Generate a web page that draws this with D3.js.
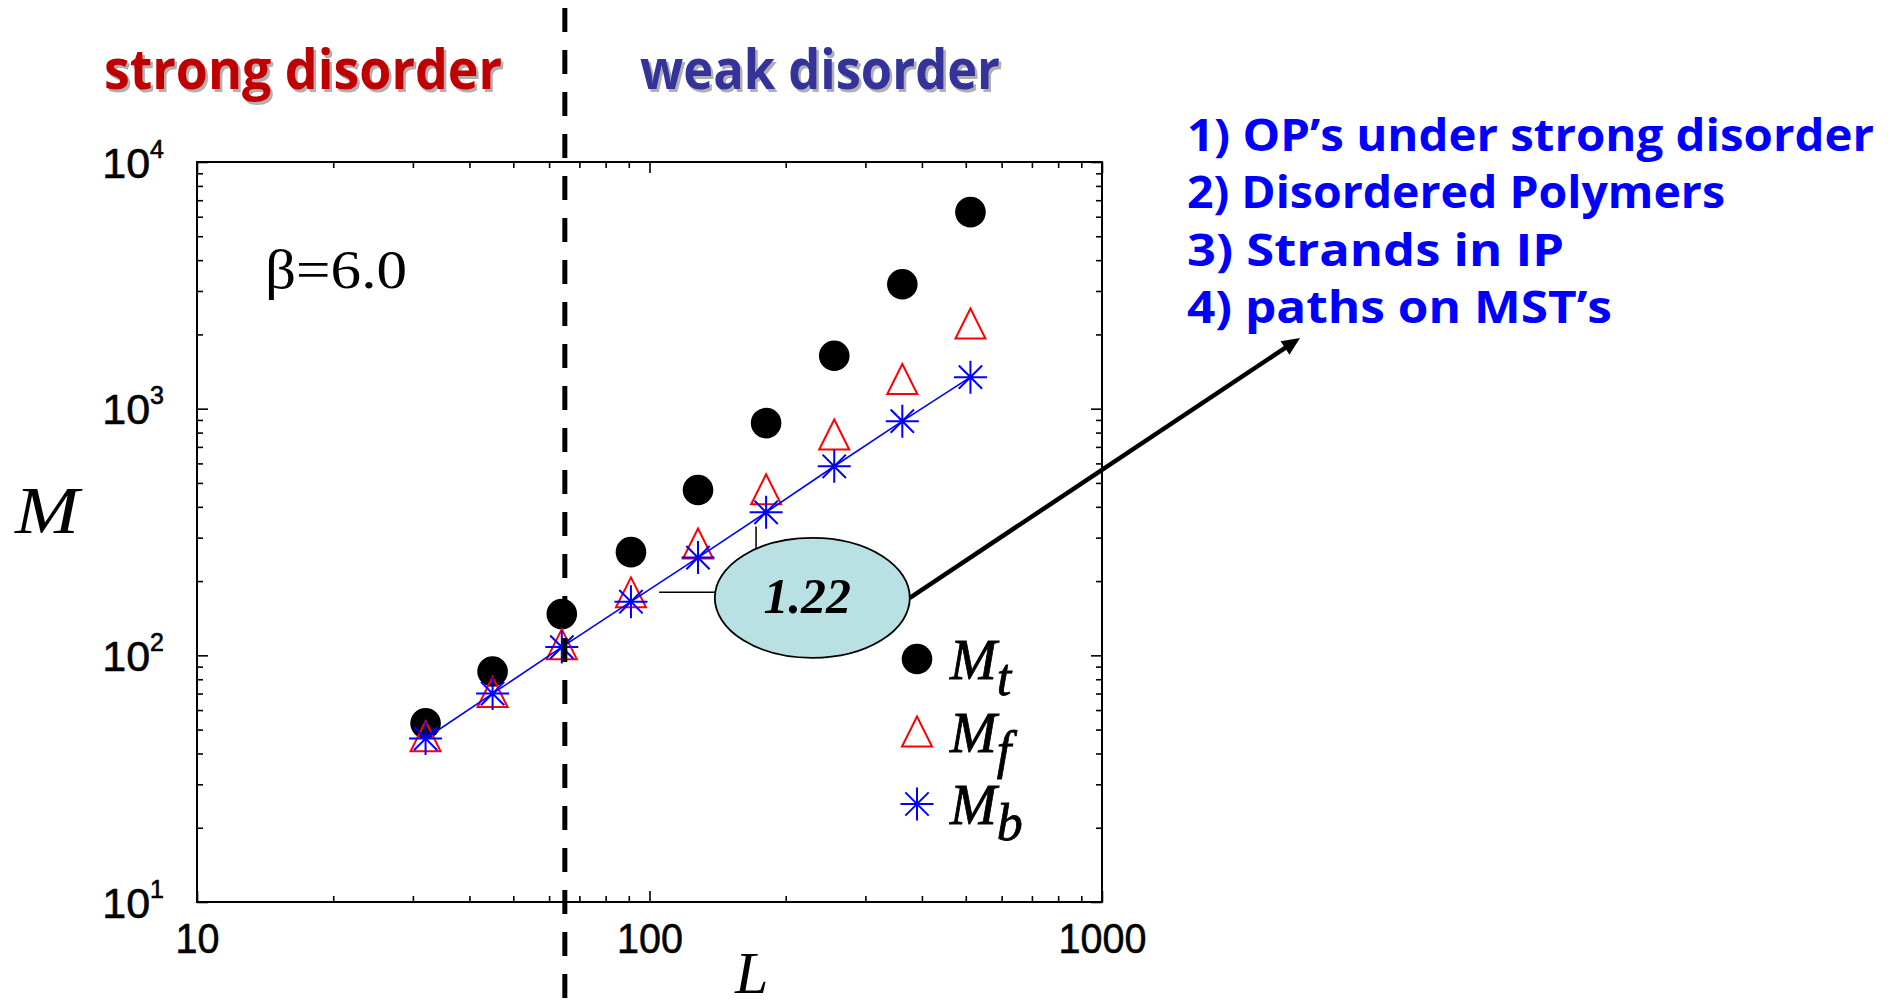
<!DOCTYPE html>
<html><head><meta charset="utf-8">
<script src="https://cdn.jsdelivr.net/npm/d3@7"></script>
<style>body{margin:0;background:#fff;} svg{display:block}</style>
</head><body>
<svg id="c" width="1899" height="1007"></svg>
<script>
// ---- data ----
const L  = [32, 45, 64, 91, 128, 181, 256, 362, 512];
const Mt = [53, 86, 147, 262, 468, 874, 1638, 3196, 6261];
const Mf = [47, 71, 111, 180, 284, 471, 785, 1318, 2213];
const Mb = [46, 70, 108, 165, 249, 380, 584, 890, 1342];
const xMajor = [10, 100, 1000];
const xTickLabels = ["10", "100", "1000"];
const yMajor = [10, 100, 1000, 10000];
const yTickExponents = ["1", "2", "3", "4"];
const legendSubs = ["t", "f", "b"];
const regionLabels = ["strong disorder", "weak disorder"];
const listItems = ["1) OP’s under strong disorder", "2) Disordered Polymers", "3) Strands in IP", "4) paths on MST’s"];
const slopeLabel = "1.22";
const betaLabel = "β=6.0";
const dividerL = 65;
// slope annotation anchors (data units)
const slopeStartL = 105, slopeCornerL = 172, slopeBaseM = 180, slopeTopM = 333;
const ellipseL = 229, ellipseM = 171;

// ---- chart ----
const svg = d3.select("#c");
const x = d3.scaleLog().domain([10, 1000]).range([197, 1102]);
const y = d3.scaleLog().domain([10, 10000]).range([902, 162]);
const minorOf = decades => decades.flatMap(d => d3.range(2, 10).map(k => k * d));
const xMinor = minorOf([10, 100]);
const yMinor = minorOf([10, 100, 1000]);
const tickFont = "'Liberation Sans', Arial, sans-serif";

function addAxis(axis, tx, ty) {
  const g = svg.append("g").attr("transform", `translate(${tx},${ty})`).call(axis);
  g.select(".domain").remove();
  g.selectAll(".tick line").attr("stroke", "#000").attr("stroke-width", 1.6);
  return g;
}
// bottom
const gb = addAxis(d3.axisBottom(x).tickValues(xMajor).tickSize(-11).tickFormat((d, i) => xTickLabels[i]), 0, 902);
gb.selectAll(".tick text").attr("y", 51).attr("dy", null)
  .attr("transform", "scale(0.92,1)")
  .style("font-family", tickFont).style("font-size", "43px").attr("fill", "#000")
  .attr("stroke", "#000").attr("stroke-width", 0.6);
addAxis(d3.axisBottom(x).tickValues(xMinor).tickSize(-6).tickFormat(""), 0, 902);
// top
addAxis(d3.axisTop(x).tickValues(xMajor).tickSize(-11).tickFormat(""), 0, 162);
addAxis(d3.axisTop(x).tickValues(xMinor).tickSize(-6).tickFormat(""), 0, 162);
// left
const gl = addAxis(d3.axisLeft(y).tickValues(yMajor).tickSize(-11).tickFormat(""), 197, 0);
gl.selectAll(".tick").append("text")
  .attr("x", -33).attr("y", 15).attr("text-anchor", "end")
  .style("font-family", tickFont).style("font-size", "43px").attr("fill", "#000")
  .attr("stroke", "#000").attr("stroke-width", 0.6)
  .each(function (d, i) {
    const t = d3.select(this);
    t.append("tspan").text("10");
    t.append("tspan").attr("dy", -20).style("font-size", "25px").text(yTickExponents[i]);
  });
addAxis(d3.axisLeft(y).tickValues(yMinor).tickSize(-6).tickFormat(""), 197, 0);
// right
addAxis(d3.axisRight(y).tickValues(yMajor).tickSize(-11).tickFormat(""), 1102, 0);
addAxis(d3.axisRight(y).tickValues(yMinor).tickSize(-6).tickFormat(""), 1102, 0);
// frame
svg.append("rect").attr("x", 197).attr("y", 162).attr("width", 905).attr("height", 740)
  .attr("fill", "none").attr("stroke", "#000").attr("stroke-width", 2);

// axis titles
const serif = "'Liberation Serif', 'Times New Roman', serif";
svg.append("text").attr("x", 15).attr("y", 533).text("M")
  .attr("textLength", 64).attr("lengthAdjust", "spacingAndGlyphs")
  .style("font-family", serif).style("font-style", "italic").style("font-size", "68px");
svg.append("text").attr("x", 735).attr("y", 993).text("L")
  .style("font-family", serif).style("font-style", "italic").style("font-size", "60px");

// beta label
svg.append("text").attr("x", 265).attr("y", 288).text(betaLabel)
  .attr("textLength", 142).attr("lengthAdjust", "spacingAndGlyphs")
  .style("font-family", serif).style("font-size", "54px");

// slope annotation
svg.append("path")
  .attr("d", `M${x(slopeStartL)},${y(slopeBaseM)} H${x(slopeCornerL)} V${y(slopeTopM)}`)
  .attr("fill", "none").attr("stroke", "#000").attr("stroke-width", 1.5);

// markers
const star = (cx, cy, r) => {
  const d = r * Math.SQRT1_2;
  return `M${cx - r},${cy}h${2 * r}M${cx},${cy - r}v${2 * r}M${cx - d},${cy - d}l${2 * d},${2 * d}M${cx - d},${cy + d}l${2 * d},${-2 * d}`;
};
const tri = (cx, cy, h) => `M${cx - h},${cy + h}L${cx + h},${cy + h}L${cx},${cy - h}Z`;

svg.append("g").selectAll("circle").data(L).join("circle")
  .attr("cx", d => x(d)).attr("cy", (d, i) => y(Mt[i])).attr("r", 15.3).attr("fill", "#000");
svg.append("g").selectAll("path").data(L).join("path")
  .attr("d", (d, i) => tri(x(d), y(Mf[i]), 15)).attr("fill", "none").attr("stroke", "#ff0000").attr("stroke-width", 2);
svg.append("path").datum(L)
  .attr("d", d3.line().x(d => x(d)).y((d, i) => y(Mb[i])))
  .attr("fill", "none").attr("stroke", "#0000ff").attr("stroke-width", 1.6);
svg.append("g").selectAll("path").data(L).join("path")
  .attr("d", (d, i) => star(x(d), y(Mb[i]), 16.5)).attr("fill", "none").attr("stroke", "#0000ff").attr("stroke-width", 2);

// ellipse
const ex = x(ellipseL), ey = y(ellipseM);
svg.append("ellipse").attr("cx", ex).attr("cy", ey).attr("rx", 97.5).attr("ry", 60)
  .attr("fill", "#b9e0e3").attr("stroke", "#000").attr("stroke-width", 1.8);
svg.append("text").attr("x", ex - 5).attr("y", ey + 15).attr("text-anchor", "middle").text(slopeLabel)
  .style("font-family", serif).style("font-style", "italic")
  .style("font-weight", "bold").style("font-size", "50px");

// arrow
const ax0 = ex + 97.5, ay0 = ey, ax1 = 1300, ay1 = 338;
const len = Math.hypot(ax1 - ax0, ay1 - ay0), ux = (ax1 - ax0) / len, uy = (ay1 - ay0) / len;
const hl = 18, hw = 8;
svg.append("line").attr("x1", ax0).attr("y1", ay0).attr("x2", ax1 - ux * (hl - 2)).attr("y2", ay1 - uy * (hl - 2))
  .attr("stroke", "#000").attr("stroke-width", 4.5);
svg.append("path").attr("d", `M${ax1},${ay1}L${ax1 - ux * hl - uy * hw},${ay1 - uy * hl + ux * hw}L${ax1 - ux * hl + uy * hw},${ay1 - uy * hl - ux * hw}Z`)
  .attr("fill", "#000");

// legend
const legY = [659, 731.5, 804];
const lg = svg.append("g");
lg.append("circle").attr("cx", 917).attr("cy", legY[0]).attr("r", 15.3).attr("fill", "#000");
lg.append("path").attr("d", tri(917, legY[1], 15)).attr("fill", "none").attr("stroke", "#ff0000").attr("stroke-width", 2);
lg.append("path").attr("d", star(917, legY[2], 16.5)).attr("fill", "none").attr("stroke", "#0000ff").attr("stroke-width", 2);
legendSubs.forEach((s, i) => {
  const t = lg.append("text").attr("x", 950).attr("y", legY[i] + 20)
    .style("font-family", serif).style("font-style", "italic").style("font-size", "56px")
    .attr("stroke", "#000").attr("stroke-width", 0.8);
  t.append("tspan").text("M");
  t.append("tspan").attr("dy", 16).style("font-size", "52px").text(s);
});

// region titles
const titleFont = "'Comic Sans MS', 'Open Sans', sans-serif";
const regionX = [104, 640], regionW = [398, 360], regionCol = ["#c00000", "#333399"];
regionLabels.forEach((t, i) => {
  [["#b0b0b0", 2.5], [regionCol[i], 0]].forEach(([c, o]) => {
    svg.append("text").attr("x", regionX[i] + o).attr("y", 89 + o).text(t)
      .attr("textLength", regionW[i]).attr("lengthAdjust", "spacingAndGlyphs")
      .style("font-family", titleFont).style("font-weight", "bold").style("font-size", "55px").attr("fill", c);
  });
});

// list
const listW = [687, 538, 377, 425];
listItems.forEach((t, i) => {
  svg.append("text").attr("x", 1187).attr("y", 150.5 + i * 57.5).text(t)
    .attr("textLength", listW[i]).attr("lengthAdjust", "spacingAndGlyphs")
    .style("font-family", titleFont).style("font-weight", "bold").style("font-size", "44px").attr("fill", "#0000ff");
});

// divider
svg.append("line").attr("x1", x(dividerL)).attr("x2", x(dividerL)).attr("y1", 8).attr("y2", 1007)
  .attr("stroke", "#000").attr("stroke-width", 5).attr("stroke-dasharray", "24,18");
</script>
</body></html>
